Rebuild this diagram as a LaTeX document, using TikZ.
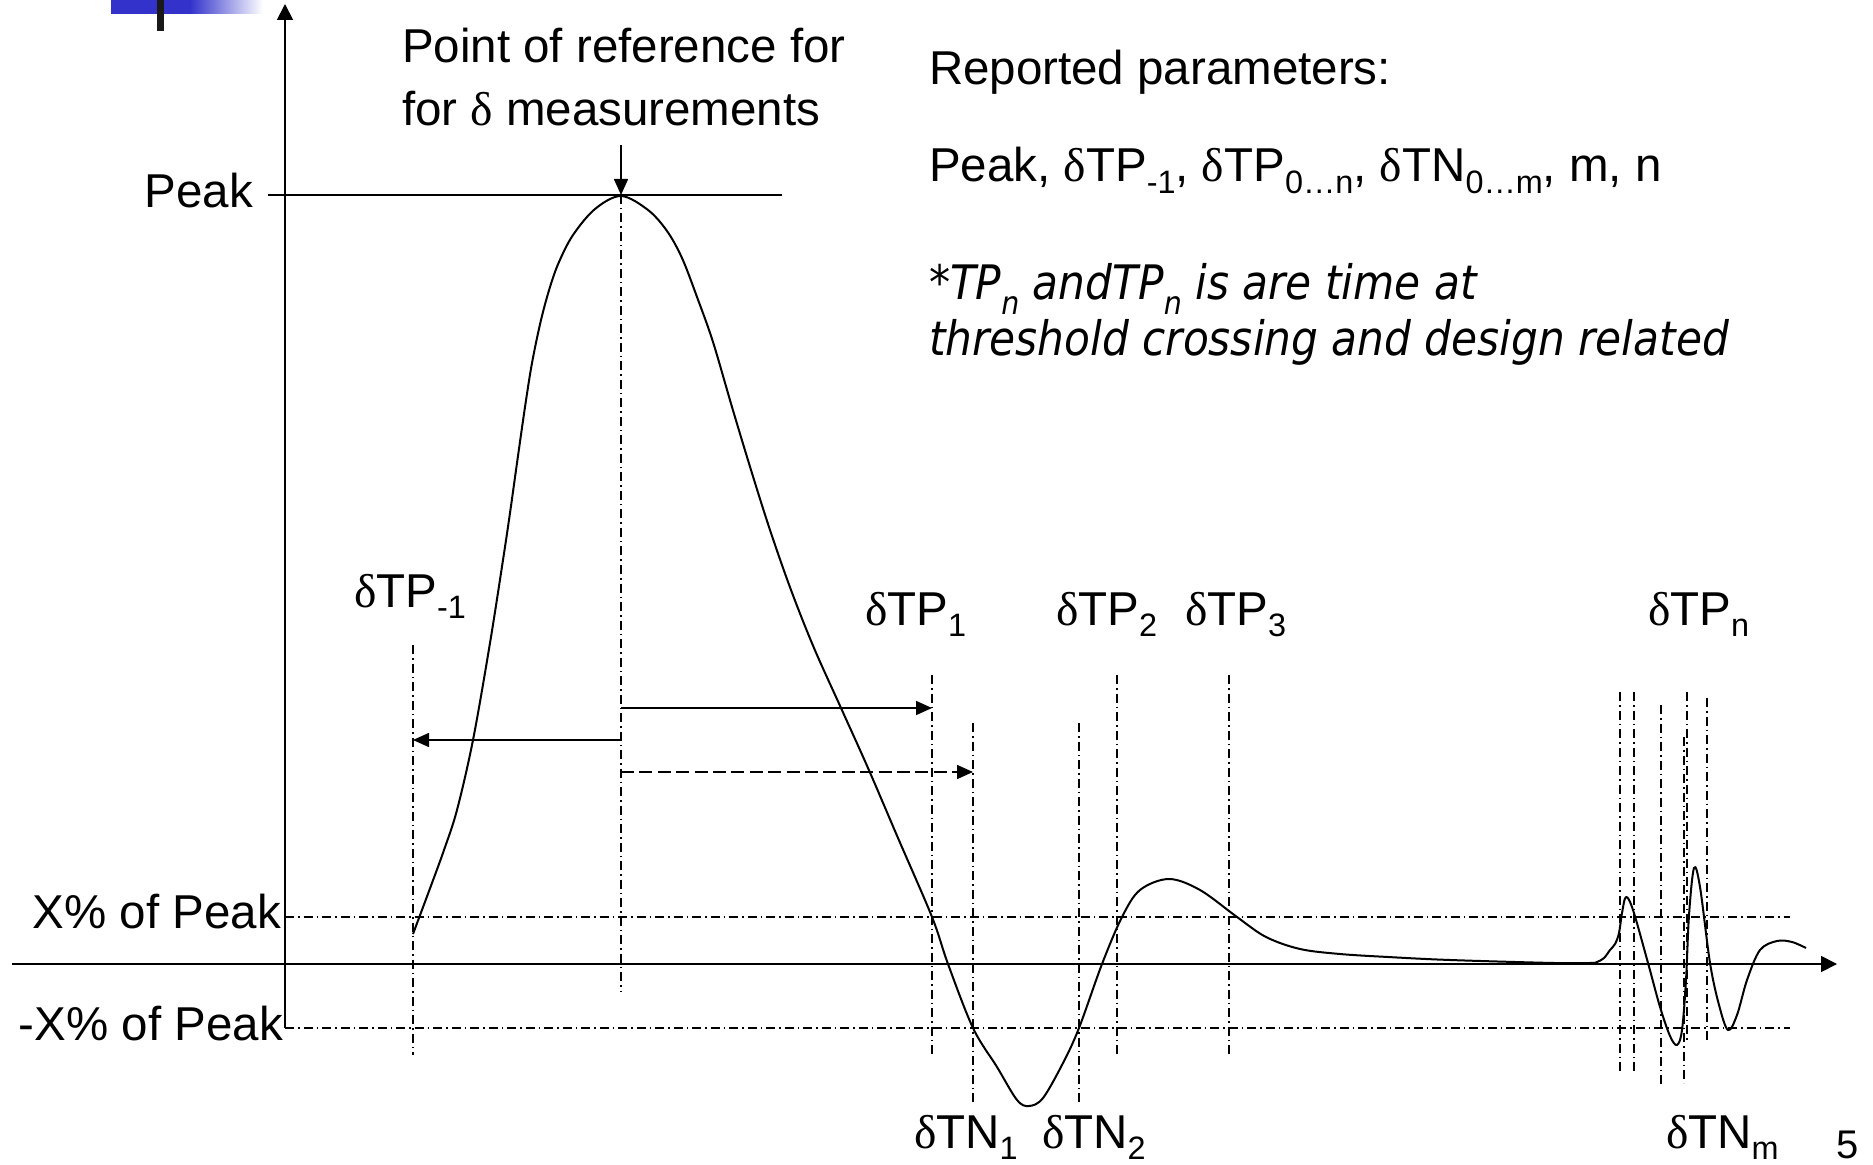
\documentclass[tikz,border=0pt]{standalone}
\usepackage{fontspec}
\setmainfont{Liberation Sans}
\newfontfamily\greekfont{Liberation Serif}
\newfontfamily\notefont[FakeStretch=0.89]{DejaVu Sans}
\usetikzlibrary{arrows.meta}

\definecolor{ornblue}{RGB}{51,51,204}

% Greek delta in a serif face, as in the labels
\newcommand\dl{{\greekfont δ}}
% lowered subscript for the labels
\newcommand\lowsub[1]{\raisebox{-0.24em}{\fontsize{16.2}{16}\selectfont #1}}
% lowered subscript for the italic note
\newcommand\nsub[1]{\raisebox{-0.3em}{\fontsize{16}{16}\selectfont #1}}

\begin{document}
\begin{tikzpicture}[x=0.5pt,y=-0.5pt,
  every node/.style={inner sep=0pt, outer sep=0pt},
  lbl/.style={font=\fontsize{23.75}{28}\selectfont},
  note/.style={font={\notefont\itshape\fontsize{23.75}{28}\selectfont}},
  guide/.style={line width=0.8pt, dash pattern=on 4.5pt off 2pt on 0.75pt off 2pt},
  axisline/.style={line width=0.9pt},
  wave/.style={line width=1pt, line join=round},
  tip/.style={-{Triangle[length=8pt,width=7pt]}},
  axtip/.style={-{Triangle[length=8pt,width=8pt]}},
]
\useasboundingbox (0,0) rectangle (1873,1165);

% corner ornament
\fill[ornblue] (111,0) rectangle (190,14);
\shade[left color=ornblue, right color=white] (190,0) rectangle (263,14);
\fill[black!90] (157,0) rectangle (164,31);

% axes
\coordinate (ybot) at (285,1028);
\coordinate (ytop) at (285,4);
\coordinate (xl) at (12,964);
\coordinate (xr) at (1837,964);
\draw[axisline, axtip] (ybot) -- (ytop);
\draw[axisline, axtip] (xl) -- (xr);

% peak level
\coordinate (pkl) at (268,195);
\coordinate (pkr) at (782,195);
\draw[axisline] (pkl) -- (pkr);

% threshold levels
\draw[guide] (285,917) -- (1790,917);
\draw[guide] (285,1028) -- (1790,1028);

% time markers
\foreach \x/\t/\b in {413/645/1055, 621/195/991, 932/675/1057, 973/723/1102,
  1079/723/1102, 1117/675/1057, 1229/675/1057, 1620/692/1073, 1634/692/1073,
  1661/705/1087, 1684/737/1083, 1687/692/1040, 1707/698/1043}
  \draw[guide] (\x,\t) -- (\x,\b);

% signal
\draw[wave] plot[smooth, tension=0.55] coordinates {
  (413,934) (432,883) (444,850) (457,810) (473,740) (490,643) (503,560)
  (510,513) (517,463) (525,407) (532,363) (541,320) (550,287) (559,262)
  (573,235) (595,209) (621,196) (648,210) (667,231) (682,258) (697,297)
  (713,342) (732,407) (751,470) (770,530) (791,590) (814,648) (841,708)
  (868,768) (898,838) (932,917) (948,964) (973,1028) (997,1067) (1017,1100)
  (1029,1106) (1043,1098) (1063,1063) (1079,1028) (1102,964) (1122,917)
  (1140,890) (1169,879) (1200,890) (1237,917) (1266,937) (1300,949)
  (1340,954) (1388,957) (1450,960) (1554,963) (1590,963)
  (1597,962) (1604,958) (1610,950) (1615,944) (1619,933) (1622,913)
  (1626,897) (1633,910) (1648,963) (1660,1007) (1670,1036) (1677,1045)
  (1682,1030) (1686,980) (1689,915) (1694,868) (1700,887) (1710,963)
  (1719,1005) (1728,1030) (1737,1015) (1747,980) (1760,950) (1777,941)
  (1792,942) (1806,948)};

% reference point and delta measurements
\coordinate (pk) at (621,195);
\coordinate (refTop) at (621,145);
\draw[line width=0.8pt, tip] (refTop) -- (pk);

\coordinate (a1s) at (621,708);
\coordinate (a1e) at (932,708);
\draw[line width=0.8pt, tip] (a1s) -- (a1e);
\coordinate (a2s) at (621,740);
\coordinate (a2e) at (413,740);
\draw[line width=0.8pt, tip] (a2s) -- (a2e);
\coordinate (a3s) at (621,772);
\coordinate (a3e) at (973,772);
\draw[line width=0.8pt, tip, dash pattern=on 6.5pt off 2.7pt] (a3s) -- (a3e);

% axis labels
\node[lbl, anchor=base east] (peaklbl) at (253,208) {Peak};
\node[lbl, anchor=base east] (xpos) at (281,928) {X\% of Peak};
\node[lbl, anchor=base east] (xneg) at (283,1040) {-X\% of Peak};

% reference note
\node[lbl, anchor=base west] (ref1) at (402,63) {Point of reference for};
\node[lbl, anchor=base west] (ref2) at (402,126) {for \dl{} measurements};

% parameter list
\node[lbl, anchor=base west] (rp) at (929,85) {Reported parameters:};
\node[lbl, anchor=base west] (plist) at (929,182)
  {Peak, \dl TP\lowsub{-1}, \dl TP\lowsub{0…n}, \dl TN\lowsub{0…m}, m, n};
\node[note, anchor=base west] (n1) at (929,300) {*TP\nsub{n} andTP\nsub{n} is are time at};
\node[note, anchor=base west] (n2) at (929,356) {threshold crossing and design related};

% marker labels
\node[lbl, anchor=base west] (tpm1) at (354,607) {\dl TP\lowsub{-1}};
\node[lbl, anchor=base west] (tp1) at (865,625) {\dl TP\lowsub{1}};
\node[lbl, anchor=base west] (tp2) at (1056,625) {\dl TP\lowsub{2}};
\node[lbl, anchor=base west] (tp3) at (1185,625) {\dl TP\lowsub{3}};
\node[lbl, anchor=base west] (tpn) at (1648,625) {\dl TP\lowsub{n}};
\node[lbl, anchor=base west] (tn1) at (914,1148) {\dl TN\lowsub{1}};
\node[lbl, anchor=base west] (tn2) at (1042,1148) {\dl TN\lowsub{2}};
\node[lbl, anchor=base west] (tnm) at (1666,1148) {\dl TN\lowsub{m}};

% page number
\node[font=\fontsize{20}{20}\selectfont, anchor=base west] (pg) at (1836,1158) {5};
\end{tikzpicture}
\end{document}
